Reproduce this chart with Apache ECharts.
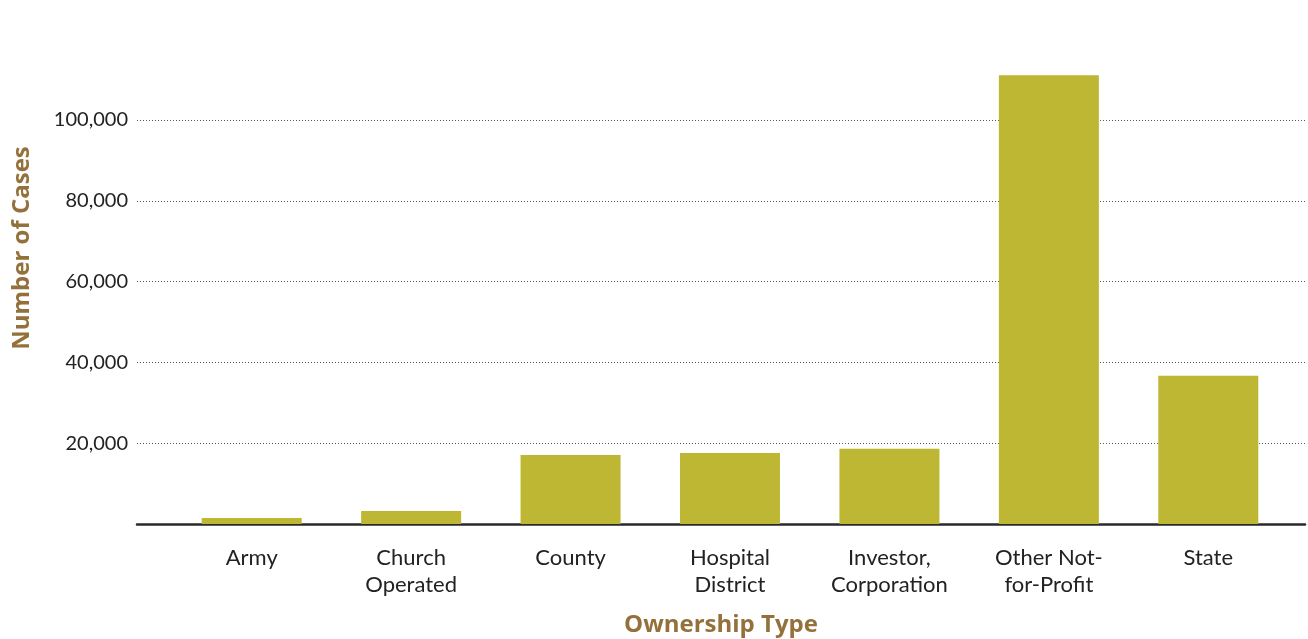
<!DOCTYPE html>
<html>
<head>
<meta charset="utf-8">
<script src="https://cdn.jsdelivr.net/npm/echarts@6/dist/echarts.min.js"></script>
<style>
  html, body { margin: 0; padding: 0; background: #fff; }
  #chart { width: 1308px; height: 639px; }
</style>
</head>
<body>
<div id="chart"></div>
<script>
// Cases by hospital ownership type
const categories = ['Army', 'Church\nOperated', 'County', 'Hospital\nDistrict', 'Investor,\nCorporation', 'Other Not-\nfor-Profit', 'State'];
const cases = [1500, 3200, 17100, 17600, 18600, 111100, 36700];
const yTicks = [0, 20000, 40000, 60000, 80000, 100000];

const FONT = 'Lato, "Open Sans", sans-serif';
const NAME_FONT = '"Open Sans", Lato, sans-serif';
const NAME_COLOR = '#94703a';
const BAR_COLOR = '#bdb733';

const chart = echarts.init(document.getElementById('chart'));
chart.setOption({
  animation: false,
  grid: [
    // frame grid: axis line, gridlines and tick labels span the full width
    { left: 137, right: 3, top: 120, bottom: 115, outerBoundsMode: 'none' },
    // bar grid: categories sit inside a slightly narrower band
    { left: 172, right: 20, top: 120, bottom: 115, outerBoundsMode: 'none' }
  ],
  graphic: [{
    type: 'text',
    x: 22, y: 248,
    rotation: Math.PI / 2,
    style: {
      text: 'Number of Cases',
      fill: NAME_COLOR,
      font: 'bold 24px ' + NAME_FONT,
      align: 'center',
      verticalAlign: 'middle'
    }
  }],
  xAxis: [
    {
      gridIndex: 0, type: 'value', min: 0, max: 1,
      axisLine: { show: true, onZero: false, lineStyle: { color: '#2a2a2a', width: 2.5 } },
      axisTick: { show: false }, axisLabel: { show: false }, splitLine: { show: false },
      name: 'Ownership Type', nameLocation: 'middle', nameGap: 89,
      nameTextStyle: { color: NAME_COLOR, fontFamily: NAME_FONT, fontWeight: 'bold', fontSize: 24 }
    },
    {
      gridIndex: 1, type: 'category', data: categories,
      axisLine: { show: false }, axisTick: { show: false },
      axisLabel: { color: '#222', fontFamily: FONT, fontSize: 22, lineHeight: 27, margin: 20, interval: 0 }
    }
  ],
  yAxis: [
    {
      gridIndex: 0, type: 'value', min: yTicks[0], max: yTicks[yTicks.length - 1], interval: 20000,
      axisLine: { show: false }, axisTick: { show: false },
      axisLabel: {
        color: '#222', fontFamily: FONT, fontSize: 20, margin: 9,
        formatter: v => v === 0 ? '' : v.toLocaleString('en-US')
      },
      splitLine: { show: true, lineStyle: { color: '#555', width: 1, type: [1, 2] } }
    },
    {
      gridIndex: 1, type: 'value', min: yTicks[0], max: yTicks[yTicks.length - 1],
      show: false, splitLine: { show: false }
    }
  ],
  series: [{
    type: 'bar',
    xAxisIndex: 1, yAxisIndex: 1,
    data: cases,
    barWidth: 100,
    clip: false,
    itemStyle: { color: BAR_COLOR },
    z: 3
  }]
});
</script>
</body>
</html>
